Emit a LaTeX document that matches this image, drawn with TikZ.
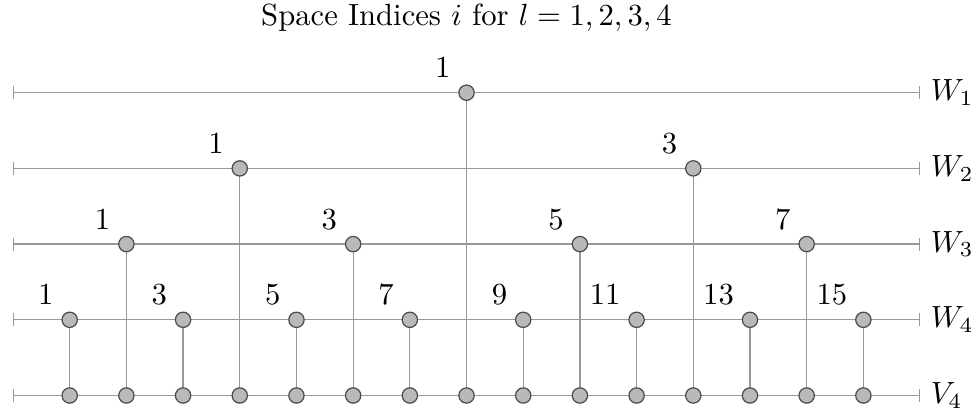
\documentclass[tikz,border=0pt]{standalone}
\usetikzlibrary{arrows.meta}
\begin{document}
\begin{tikzpicture}[x=0.3262pt,y=-0.3262pt,
  levelline/.style={draw=gray!80,line width=0.4pt,{Bar[width=4.3pt]}-{Bar[width=4.3pt]}},
  conn/.style={draw=gray!80,line width=0.4pt},
  dot/.style={circle,draw=black!70,fill=gray!55,line width=0.4pt,minimum size=5pt,inner sep=0pt},
  idx/.style={anchor=base east,inner sep=0pt},
  rlab/.style={anchor=west}]
\useasboundingbox (0,0) rectangle (978,414);
\node[anchor=base] (title) at (466.5,26) {Space Indices $i$ for $l=1,2,3,4$};
% level rows
\foreach \j/\lab in {1/W_1,2/W_2,3/W_3,4/W_4,5/V_4}{
  \pgfmathsetmacro{\yy}{92.7+75.7*(\j-1)}
  \coordinate (L\j) at (13,\yy);
  \coordinate (R\j) at (920,\yy);
  \draw[levelline] (L\j) -- (R\j);
  \node[rlab] (lab\j) at (R\j) {$\lab$};
}
% V4 dots
\foreach \k in {1,...,15}{
  \coordinate (v\k) at ({13+56.69*\k},{92.7+75.7*4});
}
% connectors and W dots: level j, positions k, index i
\foreach \j/\k/\i in {1/8/1, 2/4/1, 2/12/3, 3/2/1, 3/6/3, 3/10/5, 3/14/7,
  4/1/1, 4/3/3, 4/5/5, 4/7/7, 4/9/9, 4/11/11, 4/13/13, 4/15/15}{
  \coordinate (w\j-\k) at ({13+56.69*\k},{92.7+75.7*(\j-1)});
  \draw[conn] (w\j-\k) -- (v\k);
}
\foreach \k in {1,...,15}{
  \node[dot] (V\k) at (v\k) {};
}
\foreach \j/\k/\i in {1/8/1, 2/4/1, 2/12/3, 3/2/1, 3/6/3, 3/10/5, 3/14/7,
  4/1/1, 4/3/3, 4/5/5, 4/7/7, 4/9/9, 4/11/11, 4/13/13, 4/15/15}{
  \node[dot] (W\j-\k) at (w\j-\k) {};
  \node[idx] (t\j-\k) at ([xshift=-15.5pt*0.3262,yshift=15pt*0.3262]w\j-\k) {$\i$};
}
\end{tikzpicture}
\end{document}
